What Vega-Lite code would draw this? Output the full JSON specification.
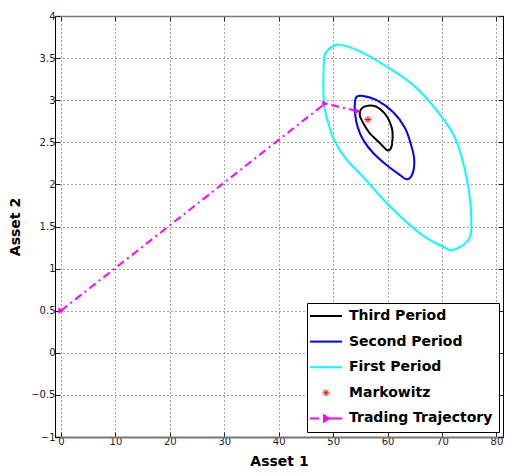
{
  "$schema": "https://vega.github.io/schema/vega-lite/v6.json",
  "width": 448,
  "height": 421,
  "autosize": {"type": "none"},
  "padding": {"left": 55, "top": 16, "right": 3, "bottom": 38},
  "background": "white",
  "config": {
    "view": {"stroke": "black", "strokeWidth": 1},
    "font": "DejaVu Sans",
    "axis": {
      "labelFont": "DejaVu Sans", "labelFontSize": 10, "labelColor": "#222",
      "titleFont": "DejaVu Sans", "titleFontWeight": "bold", "titleFontSize": 14, "titleColor": "black",
      "tickSize": -5, "tickColor": "#222", "domainColor": "black",
      "grid": true, "gridColor": "#000", "gridDash": [1, 3], "gridOpacity": 0.7
    }
  },
  "datasets": {
    "curves": [
      {"series": "First Period", "i": 1, "x": 51.2, "y": 3.66},
      {"series": "First Period", "i": 2, "x": 54.9, "y": 3.58},
      {"series": "First Period", "i": 3, "x": 59.8, "y": 3.40},
      {"series": "First Period", "i": 4, "x": 64.7, "y": 3.18},
      {"series": "First Period", "i": 5, "x": 69.0, "y": 2.88},
      {"series": "First Period", "i": 6, "x": 72.4, "y": 2.55},
      {"series": "First Period", "i": 8, "x": 74.6, "y": 2.05},
      {"series": "First Period", "i": 9, "x": 75.4, "y": 1.56},
      {"series": "First Period", "i": 10, "x": 74.8, "y": 1.34},
      {"series": "First Period", "i": 11, "x": 72.0, "y": 1.22},
      {"series": "First Period", "i": 12, "x": 70.2, "y": 1.26},
      {"series": "First Period", "i": 13, "x": 65.9, "y": 1.42},
      {"series": "First Period", "i": 14, "x": 59.8, "y": 1.78},
      {"series": "First Period", "i": 15, "x": 55.5, "y": 2.09},
      {"series": "First Period", "i": 16, "x": 52.5, "y": 2.29},
      {"series": "First Period", "i": 17, "x": 50.3, "y": 2.51},
      {"series": "First Period", "i": 18, "x": 49.0, "y": 2.75},
      {"series": "First Period", "i": 19, "x": 48.3, "y": 2.98},
      {"series": "First Period", "i": 20, "x": 48.3, "y": 3.46},
      {"series": "First Period", "i": 21, "x": 48.8, "y": 3.58},
      {"series": "First Period", "i": 22, "x": 49.7, "y": 3.63},
      {"series": "Second Period", "i": 1, "x": 54.3, "y": 3.04},
      {"series": "Second Period", "i": 2, "x": 55.5, "y": 3.05},
      {"series": "Second Period", "i": 3, "x": 58.0, "y": 3.00},
      {"series": "Second Period", "i": 4, "x": 61.0, "y": 2.86},
      {"series": "Second Period", "i": 5, "x": 63.2, "y": 2.67},
      {"series": "Second Period", "i": 6, "x": 64.4, "y": 2.45},
      {"series": "Second Period", "i": 7, "x": 64.9, "y": 2.29},
      {"series": "Second Period", "i": 8, "x": 64.6, "y": 2.13},
      {"series": "Second Period", "i": 9, "x": 63.6, "y": 2.06},
      {"series": "Second Period", "i": 10, "x": 62.3, "y": 2.11},
      {"series": "Second Period", "i": 11, "x": 59.8, "y": 2.23},
      {"series": "Second Period", "i": 12, "x": 57.4, "y": 2.37},
      {"series": "Second Period", "i": 13, "x": 55.6, "y": 2.52},
      {"series": "Second Period", "i": 14, "x": 54.5, "y": 2.68},
      {"series": "Second Period", "i": 15, "x": 54.0, "y": 2.85},
      {"series": "Second Period", "i": 16, "x": 54.0, "y": 2.98},
      {"series": "Third Period", "i": 1, "x": 55.2, "y": 2.90},
      {"series": "Third Period", "i": 2, "x": 56.4, "y": 2.935},
      {"series": "Third Period", "i": 3, "x": 58.0, "y": 2.92},
      {"series": "Third Period", "i": 4, "x": 59.5, "y": 2.84},
      {"series": "Third Period", "i": 5, "x": 60.4, "y": 2.74},
      {"series": "Third Period", "i": 6, "x": 60.9, "y": 2.63},
      {"series": "Third Period", "i": 7, "x": 60.8, "y": 2.47},
      {"series": "Third Period", "i": 8, "x": 60.4, "y": 2.41},
      {"series": "Third Period", "i": 9, "x": 59.8, "y": 2.41},
      {"series": "Third Period", "i": 10, "x": 58.6, "y": 2.49},
      {"series": "Third Period", "i": 11, "x": 56.7, "y": 2.61},
      {"series": "Third Period", "i": 12, "x": 55.5, "y": 2.73},
      {"series": "Third Period", "i": 13, "x": 54.9, "y": 2.82}
    ],
    "traj": [
      {"series": "Trading Trajectory", "i": 1, "x": 0, "y": 0.5},
      {"series": "Trading Trajectory", "i": 2, "x": 48.5, "y": 2.96},
      {"series": "Trading Trajectory", "i": 3, "x": 54.5, "y": 2.87}
    ],
    "mk": [
      {"series": "Markowitz", "x": 56.4, "y": 2.77}
    ]
  },
  "layer": [
    {
      "data": {"name": "curves"},
      "mark": {"type": "line", "interpolate": "cardinal-closed", "strokeWidth": 2},
      "encoding": {
        "x": {"field": "x", "type": "quantitative",
          "scale": {"domain": [-1.1, 81.2], "nice": false, "zero": false},
          "axis": {"values": [0, 10, 20, 30, 40, 50, 60, 70, 80], "title": "Asset 1", "labelPadding": 4, "titlePadding": 8, "domainColor": "#777", "domainWidth": 2}},
        "y": {"field": "y", "type": "quantitative",
          "scale": {"domain": [-1, 4], "nice": false, "zero": false},
          "axis": {"values": [-1, -0.5, 0, 0.5, 1, 1.5, 2, 2.5, 3, 3.5, 4], "format": "~g", "title": "Asset 2", "labelPadding": 5, "titlePadding": 8}},
        "color": {"field": "series", "type": "nominal",
          "scale": {"domain": ["Third Period", "Second Period", "First Period", "Markowitz", "Trading Trajectory"],
                    "range": ["#000000", "#0000ff", "#00ffff", "#ff0000", "#ff00ff"]},
          "legend": {
            "title": null, "orient": "none", "legendX": 252, "legendY": 287,
            "strokeColor": "black", "fillColor": "white", "padding": 6,
            "symbolOffset": 6, "labelOffset": 16, "rowPadding": 11.6, "symbolSize": 400,
            "labelFont": "DejaVu Sans", "labelFontWeight": "bold", "labelFontSize": 14, "labelColor": "black", "labelLimit": 300,
            "encode": {"symbols": {"update": {
              "shape": {"signal": "datum.value === 'Markowitz' ? 'M-0.35,0H0.35M0,-0.35V0.35M-0.25,-0.25L0.25,0.25M-0.25,0.25L0.25,-0.25' : (datum.value === 'Trading Trajectory' ? 'M-1.6,0H-0.7M-0.2,-0.3L0.3,0L-0.2,0.3ZM0.4,0H1.6' : 'M-1.6,0H1.6')"},
              "fill": {"signal": "datum.value === 'Trading Trajectory' ? '#ff00ff' : 'transparent'"},
              "stroke": {"scale": "color", "field": "value"},
              "strokeWidth": {"signal": "datum.value === 'Markowitz' ? 1 : 2"},
              "strokeDash": {"value": []},
              "size": {"value": 400},
              "opacity": {"value": 1}
            }}}
          }},
        "order": {"field": "i", "type": "quantitative"}
      }
    },
    {
      "data": {"name": "traj"},
      "mark": {"type": "line", "strokeDash": [8, 4, 2, 4], "strokeWidth": 2},
      "encoding": {
        "x": {"field": "x", "type": "quantitative", "axis": null},
        "y": {"field": "y", "type": "quantitative", "axis": null},
        "color": {"field": "series", "type": "nominal"},
        "order": {"field": "i", "type": "quantitative"}
      }
    },
    {
      "data": {"name": "traj"},
      "mark": {"type": "point", "shape": "triangle-right", "filled": true, "size": 40, "opacity": 1},
      "encoding": {
        "x": {"field": "x", "type": "quantitative", "axis": null},
        "y": {"field": "y", "type": "quantitative", "axis": null},
        "color": {"field": "series", "type": "nominal"}
      }
    },
    {
      "data": {"name": "mk"},
      "mark": {"type": "point", "shape": "M-1,0H1M0,-1V1M-0.7,-0.7L0.7,0.7M-0.7,0.7L0.7,-0.7", "filled": false, "size": 50, "strokeWidth": 1, "opacity": 1},
      "encoding": {
        "x": {"field": "x", "type": "quantitative",
          "axis": {"orient": "top", "values": [0, 10, 20, 30, 40, 50, 60, 70, 80], "labels": false, "title": null, "grid": false, "domainColor": "#777", "domainWidth": 1.5}},
        "y": {"field": "y", "type": "quantitative",
          "axis": {"orient": "right", "values": [-1, -0.5, 0, 0.5, 1, 1.5, 2, 2.5, 3, 3.5, 4], "labels": false, "title": null, "grid": false}},
        "color": {"field": "series", "type": "nominal"}
      }
    }
  ],
  "resolve": {"axis": {"x": "independent", "y": "independent"}}
}
